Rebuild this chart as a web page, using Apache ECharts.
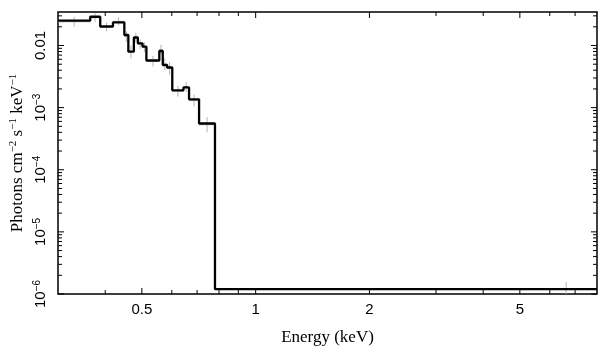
<!DOCTYPE html>
<html><head><meta charset="utf-8">
<script src="https://cdn.jsdelivr.net/npm/echarts@6/dist/echarts.min.js"></script>
<style>html,body{margin:0;padding:0;background:#fff}#c{width:609px;height:357px}</style>
</head><body><div id="c"></div>
<script>
// Model step line: lower bin edges (keV) and model flux
const energyEdges = [0.30, 0.3651, 0.3880, 0.4193, 0.4494, 0.4605, 0.4762, 0.4880, 0.5021, 0.5140, 0.5561, 0.5679, 0.5832, 0.6018, 0.6442, 0.6665, 0.7085, 0.7806];
const energyEnd = 8.0;
const modelFlux = [0.02507, 0.02899, 0.02023, 0.02347, 0.01476, 0.00795, 0.01345, 0.01085, 0.00956, 0.00573, 0.00815, 0.00485, 0.00442, 0.00190, 0.00211, 0.00136, 0.000555, 1.2e-6];

// Data points (grey crosses)
const dataE    = [0.331, 0.376, 0.403, 0.434, 0.455, 0.468, 0.482, 0.495, 0.508, 0.535, 0.562, 0.575, 0.592, 0.623, 0.655, 0.687, 0.744, 6.63];
const dataElo  = [0.300, 0.3651, 0.3880, 0.4193, 0.4494, 0.4605, 0.4762, 0.4880, 0.5021, 0.5140, 0.5561, 0.5679, 0.5832, 0.6018, 0.6442, 0.6665, 0.7085, 5.6];
const dataEhi  = [0.3651, 0.3880, 0.4193, 0.4494, 0.4605, 0.4762, 0.4880, 0.5021, 0.5140, 0.5561, 0.5679, 0.5832, 0.6018, 0.6442, 0.6665, 0.7085, 0.7806, 7.9];
const dataFlux = [0.0240, 0.0280, 0.0200, 0.0245, 0.0140, 0.0080, 0.0135, 0.0105, 0.0094, 0.0056, 0.0086, 0.0050, 0.0043, 0.00185, 0.00215, 0.00130, 0.00053, 1.2e-6];
const dataLo   = [0.0200, 0.0240, 0.0170, 0.0210, 0.0115, 0.0062, 0.0112, 0.0088, 0.0078, 0.0046, 0.0071, 0.0040, 0.0034, 0.00150, 0.00178, 0.00104, 0.00040, 0.8e-6];
const dataHi   = [0.0290, 0.0330, 0.0235, 0.0285, 0.0170, 0.0100, 0.0160, 0.0125, 0.0112, 0.0068, 0.0103, 0.0062, 0.0054, 0.00225, 0.00258, 0.00162, 0.00070, 1.55e-6];

// Axes
const xMin = 0.3, xMax = 8.0;
const yMin = 1e-6, yMax = 0.0346;
const xMajorTicks = [0.5, 1, 2, 5];
const xMajorLabels = ['0.5', '1', '2', '5'];
const xMinorTicks = [0.4, 0.6, 0.7, 0.8, 0.9, 3, 4, 6, 7];
const yMajorTicks = [1e-6, 1e-5, 1e-4, 1e-3, 1e-2];
const yMajorLabels = ['10{s|−6}', '10{s|−5}', '10{s|−4}', '10{s|−3}', '0.01'];
const yMinorTicks = [2e-6,3e-6,4e-6,5e-6,6e-6,7e-6,8e-6,9e-6,2e-5,3e-5,4e-5,5e-5,6e-5,7e-5,8e-5,9e-5,2e-4,3e-4,4e-4,5e-4,6e-4,7e-4,8e-4,9e-4,2e-3,3e-3,4e-3,5e-3,6e-3,7e-3,8e-3,9e-3,2e-2,3e-2];

const stepData = energyEdges.map((e, i) => [e, modelFlux[i]]);
stepData.push([energyEnd, modelFlux[modelFlux.length - 1]]);
const errData = dataE.map((e, i) => [e, dataFlux[i], dataLo[i], dataHi[i], dataElo[i], dataEhi[i]]);

const SANS = '"Liberation Sans", Arial, sans-serif';
const SERIF = '"Liberation Serif", "Times New Roman", serif';

const chart = echarts.init(document.getElementById('c'), null, {renderer: 'canvas'});
chart.setOption({
  animation: false,
  backgroundColor: '#fff',
  grid: {left: 54, right: 12, top: 12, bottom: 63, show: true, borderColor: '#000', borderWidth: 1.5, backgroundColor: 'transparent'},
  xAxis: {
    type: 'log', logBase: 10, min: xMin, max: xMax,
    axisLine: {show: false}, axisTick: {show: false}, axisLabel: {show: false}, splitLine: {show: false},
    name: 'Energy (keV)', nameLocation: 'middle', nameGap: 35,
    nameTextStyle: {fontFamily: SERIF, fontSize: 17, color: '#000'}
  },
  yAxis: {
    type: 'log', logBase: 10, min: yMin, max: yMax,
    axisLine: {show: false}, axisTick: {show: false}, axisLabel: {show: false}, splitLine: {show: false},
    name: '{a|Photons cm}{s|−2}{a| s}{s|−1}{a| keV}{s|−1}', nameLocation: 'middle', nameGap: 30, nameRotate: 90,
    nameTextStyle: {
      color: '#000',
      rich: {
        a: {fontFamily: SERIF, fontSize: 17, color: '#000'},
        s: {fontFamily: SERIF, fontSize: 11, color: '#000', padding: [0, 0, 9, 0]}
      }
    }
  },
  series: [
    {
      type: 'custom', coordinateSystem: 'cartesian2d', silent: true, z: 1,
      data: errData,
      renderItem: function (params, api) {
        const cs = params.coordSys;
        const bottom = cs.y + cs.height, top = cs.y;
        const c = api.coord([api.value(0), api.value(1)]);
        const lo = api.coord([api.value(0), api.value(2)]);
        const hi = api.coord([api.value(0), api.value(3)]);
        const l = api.coord([api.value(4), api.value(1)]);
        const r = api.coord([api.value(5), api.value(1)]);
        const y1 = Math.min(lo[1], bottom), y2 = Math.max(hi[1], top);
        const st = {stroke: '#b4b4b4', lineWidth: 1};
        return {type: 'group', children: [
          {type: 'line', shape: {x1: c[0], y1: y1, x2: c[0], y2: y2}, style: st},
          {type: 'line', shape: {x1: l[0], y1: c[1], x2: r[0], y2: c[1]}, style: st}
        ]};
      }
    },
    {
      type: 'line', step: 'end', data: stepData, symbol: 'none', z: 3,
      lineStyle: {color: '#000', width: 2.3}, silent: true
    },
    {
      type: 'custom', coordinateSystem: 'cartesian2d', silent: true, z: 5, clip: false,
      data: [[1, 1e-4]],
      renderItem: function (params, api) {
        const cs = params.coordSys;
        const L = cs.x, R = cs.x + cs.width, T = cs.y, B = cs.y + cs.height;
        const kids = [];
        const st = {stroke: '#000', lineWidth: 1};
        const maj = 6, mnr = 4;
        xMajorTicks.forEach((v, i) => {
          const px = api.coord([v, yMin])[0];
          kids.push({type: 'line', shape: {x1: px, y1: B, x2: px, y2: B - maj}, style: st});
          kids.push({type: 'line', shape: {x1: px, y1: T, x2: px, y2: T + maj}, style: st});
          kids.push({type: 'text', x: px, y: B + 8, style: {text: xMajorLabels[i], font: '15px ' + SANS, fill: '#000', align: 'center', verticalAlign: 'top'}});
        });
        xMinorTicks.forEach(v => {
          const px = api.coord([v, yMin])[0];
          kids.push({type: 'line', shape: {x1: px, y1: B, x2: px, y2: B - mnr}, style: st});
          kids.push({type: 'line', shape: {x1: px, y1: T, x2: px, y2: T + mnr}, style: st});
        });
        yMajorTicks.forEach((v, i) => {
          const py = api.coord([xMin, v])[1];
          kids.push({type: 'line', shape: {x1: L, y1: py, x2: L + maj, y2: py}, style: st});
          kids.push({type: 'line', shape: {x1: R, y1: py, x2: R - maj, y2: py}, style: st});
          kids.push({type: 'text', x: L - 17, y: py, rotation: Math.PI / 2, style: {
            text: yMajorLabels[i], font: '15px ' + SANS, fill: '#000', align: 'center', verticalAlign: 'middle',
            rich: {s: {fontFamily: SANS, fontSize: 10, fill: '#000', padding: [0, 0, 8, 0]}}
          }});
        });
        yMinorTicks.forEach(v => {
          const py = api.coord([xMin, v])[1];
          kids.push({type: 'line', shape: {x1: L, y1: py, x2: L + mnr, y2: py}, style: st});
          kids.push({type: 'line', shape: {x1: R, y1: py, x2: R - mnr, y2: py}, style: st});
        });
        return {type: 'group', children: kids};
      }
    }
  ]
});
</script>
</body></html>
